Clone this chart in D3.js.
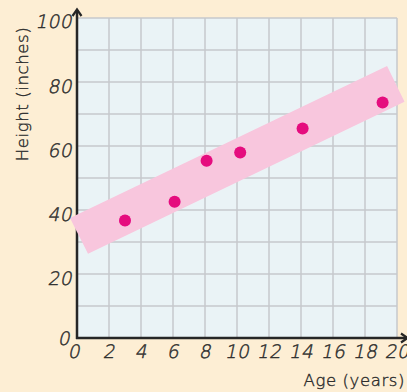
<!DOCTYPE html>
<html><head><meta charset="utf-8">
<script src="https://cdn.jsdelivr.net/npm/d3@7"></script>
<style>
html,body{margin:0;padding:0;background:#fdeed4;}
svg{display:block;}
.tick-label{font-family:"DejaVu Sans",sans-serif;font-weight:200;font-size:18.5px;fill:#2e2e2e;letter-spacing:0.5px;stroke:#2e2e2e;stroke-width:0.45px;}
.axis-title{font-family:"DejaVu Sans",sans-serif;font-weight:200;font-size:16.5px;fill:#2e2e2e;letter-spacing:0.6px;stroke:#2e2e2e;stroke-width:0.4px;}
</style></head>
<body>
<script>
// Data
const ages = [3.0, 6.1, 8.1, 10.2, 14.1, 19.1];
const heights = [36.7, 42.6, 55.4, 58.0, 65.5, 73.6];
const xTicks = [0, 2, 4, 6, 8, 10, 12, 14, 16, 18, 20];
const yTicks = [0, 20, 40, 60, 80, 100];
const yGrid = [0, 10, 20, 30, 40, 50, 60, 70, 80, 90, 100];
// band corners (data units)
const bandX = [-0.44, 0.69, 20.47, 19.38];
const bandY = [37.5, 26.3, 73.8, 85.0];

const W = 407, H = 392;
const svg = d3.select("body").append("svg").attr("width", W).attr("height", H);
svg.append("rect").attr("width", W).attr("height", H).attr("fill", "#fdeed4");

const x = d3.scaleLinear().domain([0, 20]).range([77, 397]);
const y = d3.scaleLinear().domain([0, 100]).range([338, 18]);

const defs = svg.append("defs");
defs.append("filter").attr("id", "soft").append("feGaussianBlur").attr("stdDeviation", 0.7);
defs.append("filter").attr("id", "soft2").append("feGaussianBlur").attr("stdDeviation", 0.4);

// plot background
svg.append("rect").attr("x", x(0)).attr("y", y(100)).attr("width", x(20) - x(0)).attr("height", y(0) - y(100)).attr("fill", "#eaf3f6");

// grid
const g = svg.append("g").attr("stroke", "#c6c8cc").attr("stroke-width", 1.5);
g.selectAll(".vg").data(xTicks.slice(1)).join("line")
  .attr("x1", d => x(d)).attr("x2", d => x(d)).attr("y1", y(100)).attr("y2", y(0));
g.selectAll(".hg").data(yGrid.slice(1)).join("line")
  .attr("x1", x(0)).attr("x2", x(20)).attr("y1", d => y(d)).attr("y2", d => y(d));

// axes
const ax = svg.append("g").attr("stroke", "#262626").attr("stroke-width", 2.5).attr("fill", "none");
ax.append("line").attr("x1", x(0)).attr("x2", x(0)).attr("y1", y(0) + 1).attr("y2", y(100) - 8);
ax.append("line").attr("x1", x(0) - 1).attr("x2", x(20) + 10).attr("y1", y(0)).attr("y2", y(0));
ax.append("path").attr("d", `M${x(0)-4.5},${y(100)-2} L${x(0)},${y(100)-8.5} L${x(0)+4.5},${y(100)-2}`).attr("stroke-width", 2.2);
ax.append("path").attr("d", `M${x(20)+4},${y(0)-4.5} L${x(20)+10.5},${y(0)} L${x(20)+4},${y(0)+4.5}`).attr("stroke-width", 2.2);

// band
const bandPts = bandX.map((d, i) => [x(d), y(bandY[i])]);
svg.append("path").attr("d", d3.line()(bandPts) + "Z").attr("fill", "#f8c6dd").attr("filter", "url(#soft2)");

// points
svg.selectAll(".pt").data(ages).join("circle")
  .attr("cx", d => x(d)).attr("cy", (d, i) => y(heights[i])).attr("r", 6)
  .attr("fill", "#e5087e").attr("filter", "url(#soft)");

// tick labels (slanted)
const skew = "skewX(-12)";
svg.selectAll(".xl").data(xTicks).join("text").attr("class", "tick-label")
  .attr("transform", d => `translate(${d === 0 ? x(d) - 3 : x(d)},358) ${skew}`)
  .attr("text-anchor", "middle").text(d => d);
svg.selectAll(".yl").data(yTicks).join("text").attr("class", "tick-label")
  .attr("transform", d => `translate(${d === 0 ? x(0) - 7 : x(0) - 5},${d === 100 ? y(d) + 10 : (d === 0 ? y(d) + 7 : y(d) + 11)}) ${skew}`)
  .attr("text-anchor", "end").text(d => d);

// axis titles
svg.append("text").attr("class", "axis-title").attr("x", 405).attr("y", 386).attr("text-anchor", "end").text("Age (years)");
svg.append("text").attr("class", "axis-title").attr("transform", "translate(28,94) rotate(-90)").attr("text-anchor", "middle").text("Height (inches)");
</script>
</body></html>
